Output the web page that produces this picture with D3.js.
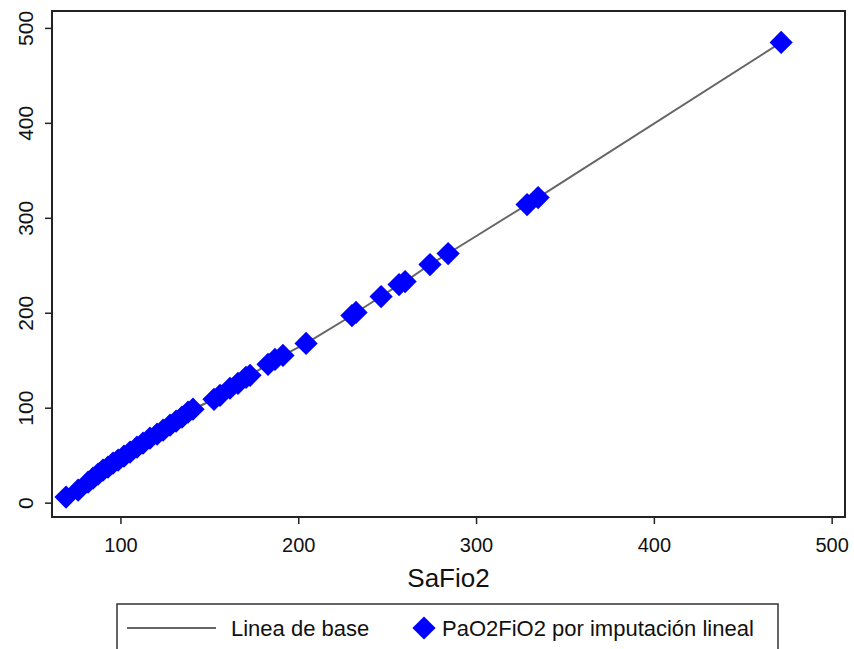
<!DOCTYPE html>
<html>
<head>
<meta charset="utf-8">
<script src="https://cdn.jsdelivr.net/npm/d3@7"></script>
<style>
  body { margin: 0; background: #fff; }
  svg { font-family: "Liberation Sans", Arial, sans-serif; }
</style>
</head>
<body>
<div id="chart"></div>
<script>
// SaFio2 values (x) and PaO2FiO2 by linear imputation (y)
const safio2 = [69.4, 76.2, 81.8, 84.6, 87.4, 90.2, 93.0, 95.8, 98.7, 102.0,
  105.4, 109.3, 112.7, 116.6, 120.6, 124.0, 127.9, 131.3, 134.6, 138.0,
  140.8, 152.6, 156.0, 161.6, 166.1, 170.6, 172.9, 183.0, 186.9, 191.4,
  204.4, 230.2, 232.5, 246.6, 256.7, 260.1, 274.1, 284.3, 328.7, 334.9, 471.6];
const pao2fio2 = [5.9, 13.2, 21.6, 25.8, 30.0, 34.3, 37.4, 41.6, 44.8, 49.0,
  53.2, 58.4, 62.6, 67.9, 72.1, 76.3, 81.6, 85.8, 90.0, 95.3,
  98.4, 108.9, 113.1, 120.5, 125.7, 132.0, 134.1, 145.7, 150.9, 155.1,
  167.7, 197.1, 200.3, 217.1, 229.7, 232.9, 250.8, 262.4, 313.9, 321.3, 484.7];
const xTicks = [100, 200, 300, 400, 500];
const yTicks = [0, 100, 200, 300, 400, 500];
const legendLabels = ["Linea de base", "PaO2FiO2 por imputación lineal"];

const width = 854, height = 649;
const margin = { top: 11, right: 9, bottom: 132, left: 52 };

const data = safio2.map((d, i) => ({ x: d, y: pao2fio2[i] }))
  .sort((a, b) => a.x - b.x);

const svg = d3.select("#chart")
  .append("svg")
  .attr("width", width)
  .attr("height", height);

const x = d3.scaleLinear()
  .domain([61.5, 507.5])
  .range([margin.left, width - margin.right]);

const y = d3.scaleLinear()
  .domain([-15.1, 517.8])
  .range([height - margin.bottom, margin.top]);

// baseline line through the points
const line = d3.line().x(d => x(d.x)).y(d => y(d.y));
svg.append("path")
  .datum(data)
  .attr("d", line)
  .attr("fill", "none")
  .attr("stroke", "#666")
  .attr("stroke-width", 2);

// diamonds
const diamond = d3.symbol().type(d3.symbolSquare).size(270);
svg.append("g")
  .selectAll("path")
  .data(data)
  .join("path")
  .attr("d", diamond)
  .attr("transform", d => `translate(${x(d.x)},${y(d.y)}) rotate(45)`)
  .attr("fill", "#0000ff");

// frame
svg.append("rect")
  .attr("x", margin.left)
  .attr("y", margin.top)
  .attr("width", width - margin.left - margin.right)
  .attr("height", height - margin.top - margin.bottom)
  .attr("fill", "none")
  .attr("stroke", "#222")
  .attr("stroke-width", 2);

function xAxis(g) {
  g.attr("transform", `translate(0,${height - margin.bottom})`)
    .call(d3.axisBottom(x).tickValues(xTicks).tickSize(7).tickSizeOuter(0))
    .call(g => g.select(".domain").remove())
    .call(g => g.selectAll(".tick line").attr("stroke", "#222").attr("stroke-width", 1.5))
    .call(g => g.selectAll(".tick text")
      .attr("y", 35).attr("dy", 0)
      .attr("fill", "#111")
      .attr("font-size", "20px"));
}

function yAxis(g) {
  g.attr("transform", `translate(${margin.left},0)`)
    .call(d3.axisLeft(y).tickValues(yTicks).tickSize(7).tickSizeOuter(0))
    .call(g => g.select(".domain").remove())
    .call(g => g.selectAll(".tick line").attr("stroke", "#222").attr("stroke-width", 1.5))
    .call(g => g.selectAll(".tick text")
      .attr("transform", "rotate(-90)")
      .attr("x", 0).attr("y", -19).attr("dy", 0)
      .attr("text-anchor", "middle")
      .attr("fill", "#111")
      .attr("font-size", "21px"));
}

svg.append("g").call(xAxis);
svg.append("g").call(yAxis);

svg.append("text")
  .attr("x", (margin.left + width - margin.right) / 2)
  .attr("y", 587)
  .attr("text-anchor", "middle")
  .attr("font-size", "26px")
  .attr("fill", "#111")
  .text("SaFio2");

// legend
const legend = svg.append("g");
legend.append("rect")
  .attr("x", 117).attr("y", 604)
  .attr("width", 661).attr("height", 60)
  .attr("fill", "#fff")
  .attr("stroke", "#333")
  .attr("stroke-width", 1.5);
legend.append("line")
  .attr("x1", 127).attr("x2", 216)
  .attr("y1", 628).attr("y2", 628)
  .attr("stroke", "#666").attr("stroke-width", 2);
legend.append("text")
  .attr("x", 231).attr("y", 636)
  .attr("font-size", "22px").attr("fill", "#111")
  .text(legendLabels[0]);
legend.append("path")
  .attr("d", diamond)
  .attr("transform", "translate(424,628) rotate(45)")
  .attr("fill", "#0000ff");
legend.append("text")
  .attr("x", 442).attr("y", 636)
  .attr("font-size", "22px").attr("fill", "#111")
  .text(legendLabels[1]);
</script>
</body>
</html>
